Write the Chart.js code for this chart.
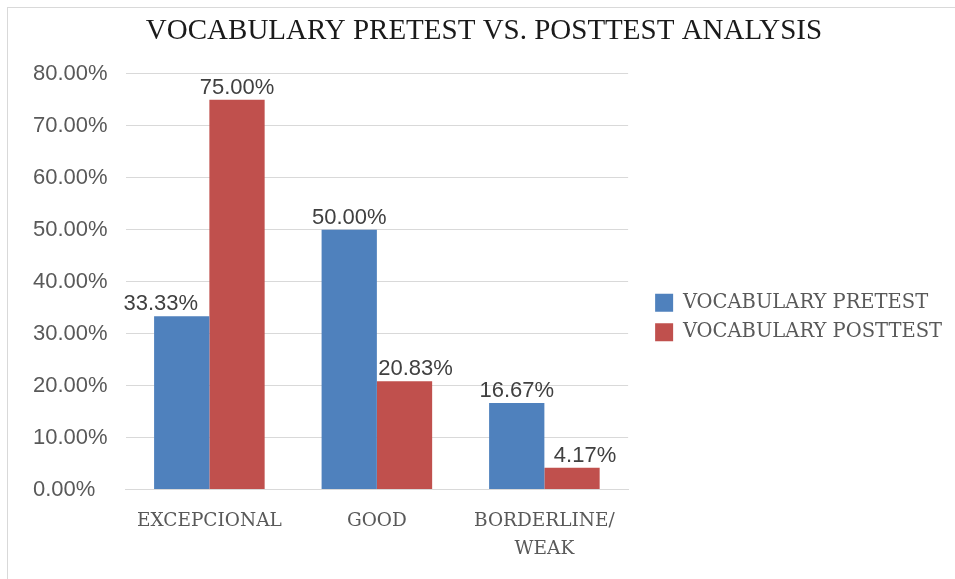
<!DOCTYPE html>
<html>
<head>
<meta charset="utf-8">
<script src="https://cdn.jsdelivr.net/npm/chart.js@4/dist/chart.umd.min.js"></script>
<style>
  html, body { margin: 0; padding: 0; background: #fff; }
  #frame {
    position: absolute; left: 7px; top: 7px; width: 960px; height: 590px;
    border: 1px solid #d9d9d9; box-sizing: border-box;
  }
  #wrap { position: absolute; left: 0; top: 0; width: 955px; height: 579px; }
</style>
</head>
<body>
<div id="frame"></div>
<div id="wrap"><canvas id="vocabChart"></canvas></div>
<script>
const categories = [['EXCEPCIONAL'], ['GOOD'], ['BORDERLINE/', 'WEAK']];
const pretestValues = [33.33, 50.00, 16.67];
const posttestValues = [75.00, 20.83, 4.17];
const seriesNames = ['VOCABULARY PRETEST', 'VOCABULARY POSTTEST'];
const yTicks = [0, 10, 20, 30, 40, 50, 60, 70, 80];

// horizontal nudges of the value labels, px, per series then category
const labelShift = [[-21, 0, 0], [0, 11, 13]];

const valueLabels = {
    id: 'valueLabels',
    afterDatasetsDraw(chart) {
        const ctx = chart.ctx;
        ctx.save();
        ctx.font = '22px "Liberation Sans", Arial, sans-serif';
        ctx.fillStyle = '#404040';
        ctx.textAlign = 'center';
        ctx.textBaseline = 'bottom';
        chart.data.datasets.forEach((ds, i) => {
            chart.getDatasetMeta(i).data.forEach((bar, j) => {
                const text = ds.data[j].toFixed(2) + '%';
                ctx.fillText(text, bar.x + labelShift[i][j], bar.y - 1);
            });
        });
        ctx.restore();
    }
};

// move the legend block right and a little below the middle of the plot
const legendShift = {
    id: 'legendShift',
    afterLayout(chart) {
        const lg = chart.legend;
        if (!lg) return;
        lg.top += 26;
        lg.bottom += 26;
        lg.left += 17;
        lg.right += 17;
    }
};

new Chart(document.getElementById('vocabChart'), {
    type: 'bar',
    data: {
        labels: categories,
        datasets: [
            { label: seriesNames[0], data: pretestValues, backgroundColor: '#4f81bd' },
            { label: seriesNames[1], data: posttestValues, backgroundColor: '#c0504d' }
        ]
    },
    options: {
        responsive: true,
        maintainAspectRatio: false,
        animation: false,
        layout: { padding: { left: 33, right: 20, top: 10, bottom: 6 } },
        datasets: { bar: { barPercentage: 1, categoryPercentage: 0.66 } },
        plugins: {
            title: {
                display: true,
                text: 'VOCABULARY PRETEST VS. POSTTEST ANALYSIS',
                color: '#1a1a1a',
                font: { family: '"Liberation Serif", serif', size: 29, weight: 'normal' },
                padding: { top: 4, bottom: 25 }
            },
            legend: {
                position: 'right',
                maxWidth: 400,
                labels: {
                    color: '#595959',
                    font: { family: '"DejaVu Serif", serif', size: 19.5 },
                    boxWidth: 18,
                    boxHeight: 18,
                    padding: 10
                }
            },
            tooltip: { enabled: false }
        },
        scales: {
            x: {
                grid: { display: false },
                border: { display: true, color: '#d9d9d9' },
                ticks: {
                    color: '#595959',
                    font: { family: '"DejaVu Serif", serif', size: 18.5, lineHeight: 1.5 },
                    padding: 10,
                    maxRotation: 0
                }
            },
            y: {
                min: 0,
                max: 80,
                afterBuildTicks: (axis) => { axis.ticks = yTicks.map(v => ({ value: v })); },
                grid: { color: '#d9d9d9', drawTicks: false },
                border: { display: false },
                ticks: {
                    color: '#595959',
                    font: { family: '"Liberation Sans", Arial, sans-serif', size: 22 },
                    padding: 9,
                    crossAlign: 'far',
                    callback: (v) => v.toFixed(2) + '%'
                }
            }
        }
    },
    plugins: [valueLabels, legendShift]
});
</script>
</body>
</html>
